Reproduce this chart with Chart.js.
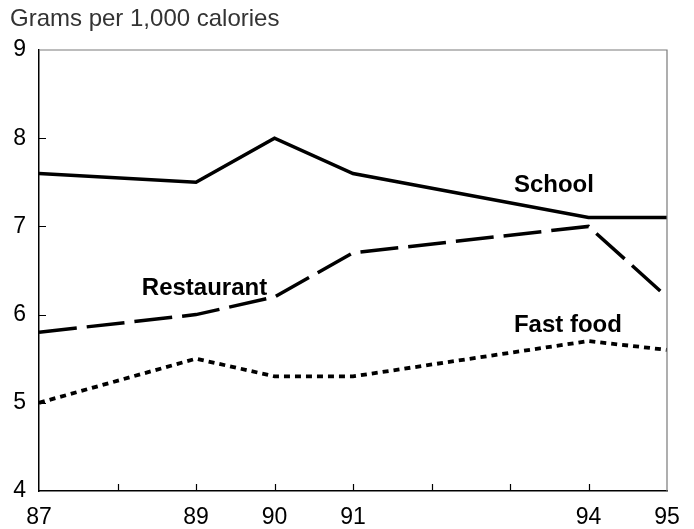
<!DOCTYPE html>
<html>
<head>
<meta charset="utf-8">
<script src="https://cdn.jsdelivr.net/npm/chart.js@4"></script>
<style>
  html, body { margin: 0; padding: 0; background: #fff; }
  #wrap { width: 694px; height: 529px; position: relative; }
</style>
</head>
<body>
<div id="wrap"><canvas id="chart" width="694" height="529"></canvas></div>
<script>
// --- Data ---
const years = [87, 89, 90, 91, 94, 95];
const school = [7.6, 7.5, 8.0, 7.6, 7.1, 7.1];
const restaurant = [5.8, 6.0, 6.2, 6.7, 7.0, 6.2];
const fastFood = [5.0, 5.5, 5.3, 5.3, 5.7, 5.6];
const xTickLabels = [87, 89, 90, 91, 94, 95];
const yTickLabels = [4, 5, 6, 7, 8, 9];

const FONT = "'Liberation Sans', Arial, Helvetica, sans-serif";

// series labels placed in data space (left edge, vertical middle)
const seriesLabels = [
  { text: "School", x: 93.05, y: 7.47 },
  { text: "Restaurant", x: 88.31, y: 6.3 },
  { text: "Fast food", x: 93.05, y: 5.88 }
];

const toPoints = (vals) => years.map((yr, i) => ({ x: yr, y: vals[i] }));

// inward tick marks, box, title and series labels
const decorPlugin = {
  id: "decor",
  afterDraw(chart) {
    const { ctx, chartArea: a, scales } = chart;
    ctx.save();

    // top + right frame (grey)
    ctx.strokeStyle = "#7a7a7a";
    ctx.lineWidth = 1.2;
    ctx.beginPath();
    ctx.moveTo(a.left, a.top);
    ctx.lineTo(a.right, a.top);
    ctx.lineTo(a.right, a.bottom);
    ctx.stroke();

    // inward ticks
    ctx.strokeStyle = "#000";
    ctx.lineWidth = 1.2;
    ctx.beginPath();
    for (let v = 88; v <= 94; v++) {
      const px = Math.round(scales.x.getPixelForValue(v)) + 0.5;
      ctx.moveTo(px, a.bottom);
      ctx.lineTo(px, a.bottom - 7);
    }
    for (let v = 5; v <= 8; v++) {
      const py = Math.round(scales.y.getPixelForValue(v)) + 0.5;
      ctx.moveTo(a.left, py);
      ctx.lineTo(a.left + 7, py);
    }
    ctx.stroke();

    // title
    ctx.fillStyle = "#333";
    ctx.font = "24px " + FONT;
    ctx.textAlign = "left";
    ctx.textBaseline = "alphabetic";
    ctx.fillText("Grams per 1,000 calories", 10, 26);

    // series labels
    ctx.fillStyle = "#000";
    ctx.font = "bold 24px " + FONT;
    ctx.textBaseline = "middle";
    seriesLabels.forEach((l) => {
      ctx.fillText(l.text, scales.x.getPixelForValue(l.x), scales.y.getPixelForValue(l.y));
    });

    ctx.restore();
  }
};

new Chart(document.getElementById("chart"), {
  type: "line",
  data: {
    datasets: [
      {
        label: "School",
        data: toPoints(school),
        borderColor: "#000",
        borderWidth: 3.5,
        pointRadius: 0,
        tension: 0
      },
      {
        label: "Restaurant",
        data: toPoints(restaurant),
        borderColor: "#000",
        borderWidth: 3.5,
        borderDash: [38, 10],
        pointRadius: 0,
        tension: 0
      },
      {
        label: "Fast food",
        data: toPoints(fastFood),
        borderColor: "#000",
        borderWidth: 3.8,
        borderDash: [6, 5],
        pointRadius: 0,
        tension: 0
      }
    ]
  },
  options: {
    responsive: false,
    animation: false,
    devicePixelRatio: 1,
    layout: { padding: { top: 50, right: 27, left: 0, bottom: 0 } },
    plugins: {
      legend: { display: false },
      tooltip: { enabled: false },
      title: { display: false }
    },
    scales: {
      x: {
        type: "linear",
        min: 87,
        max: 95,
        afterFit: (s) => { s.height = 38; },
        afterBuildTicks: (s) => { s.ticks = xTickLabels.map((v) => ({ value: v })); },
        grid: { display: false, drawTicks: false },
        border: { display: true, color: "#000", width: 1.5 },
        ticks: {
          color: "#000",
          padding: 13,
          maxRotation: 0,
          autoSkip: false,
          font: { size: 23, family: FONT },
          callback: (v) => String(v)
        }
      },
      y: {
        min: 4,
        max: 9,
        afterFit: (s) => { s.width = 39; },
        afterBuildTicks: (s) => { s.ticks = yTickLabels.map((v) => ({ value: v })); },
        grid: { display: false, drawTicks: false },
        border: { display: true, color: "#000", width: 1.5 },
        ticks: {
          color: "#000",
          padding: 13,
          font: { size: 23, family: FONT },
          callback: (v) => String(v)
        }
      }
    }
  },
  plugins: [decorPlugin]
});
</script>
</body>
</html>
